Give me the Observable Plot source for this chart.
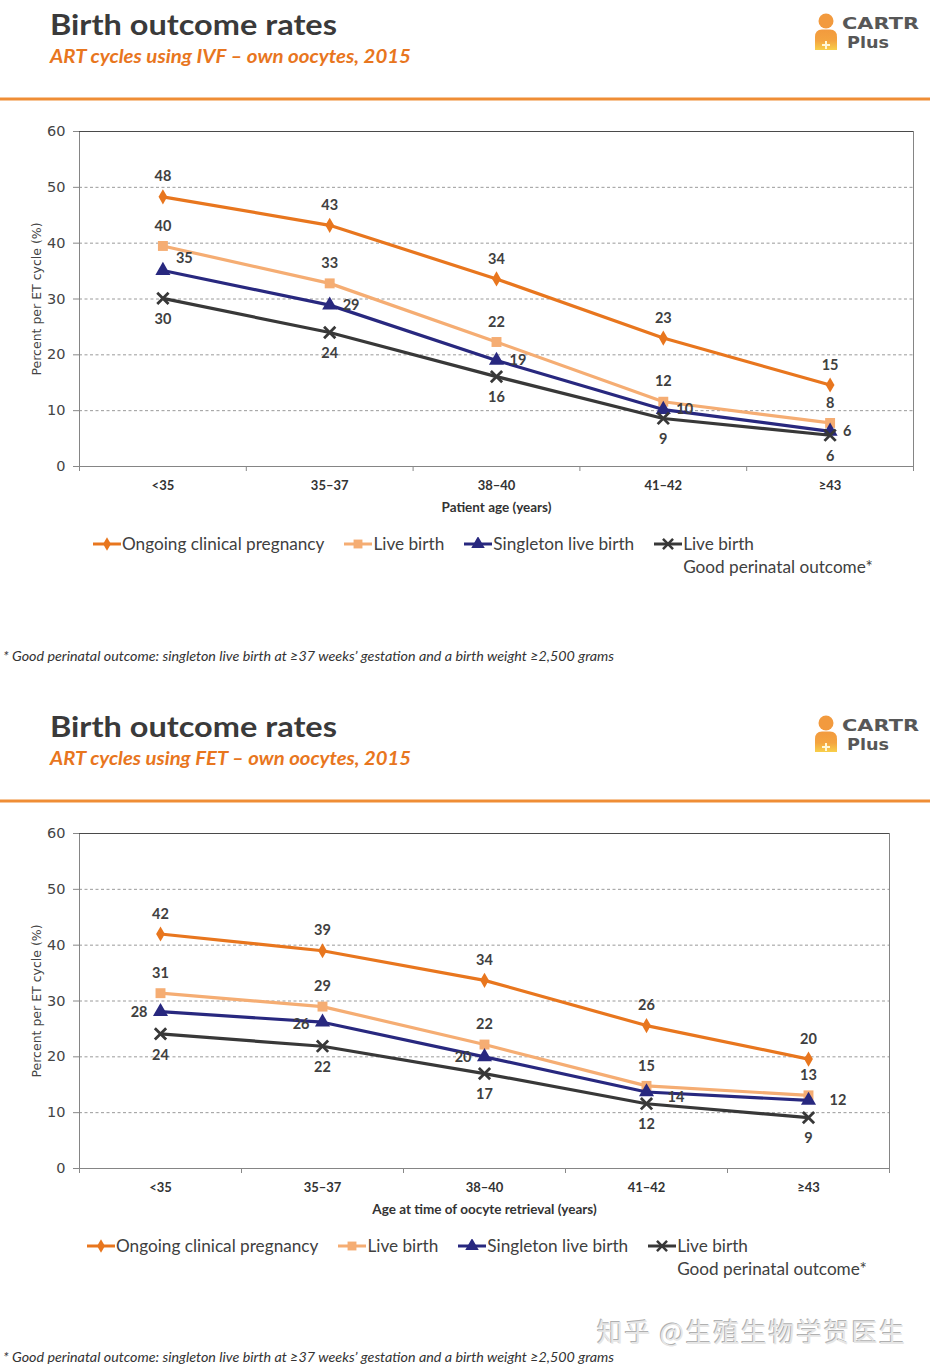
<!DOCTYPE html>
<html>
<head>
<meta charset="utf-8">
<script src="https://cdn.jsdelivr.net/npm/d3@7"></script>
<script src="https://cdn.jsdelivr.net/npm/@observablehq/plot@0.6"></script>
<style>
  body { margin: 0; background: #fff; font-family: Lato, "Open Sans", sans-serif; }
  #page { position: relative; width: 930px; height: 1370px; overflow: hidden; background: #fff; }
  .abs { position: absolute; left: 0; }
  .legend { position: absolute; display: flex; gap: 20px; align-items: flex-start; font-size: 17.2px; color: #404040; line-height: 23px; }
  .legend .item { display: flex; align-items: flex-start; }
  .legend svg { margin-top: 5px; margin-right: 1px; }
  .watermark { position: absolute; left: 597px; top: 1312px; font-family: "Noto Sans CJK SC", sans-serif; font-size: 26px; color: #e6e6e6; text-shadow: -1px -1px 0 #b0b0b0; letter-spacing: 1.6px; }
</style>
</head>
<body>
<div id="page"></div>
<script>
// ---------------- data ----------------
const ageGroups = ["<35", "35–37", "38–40", "41–42", "≥43"];
const seriesNames = ["Ongoing clinical pregnancy", "Live birth", "Singleton live birth", "Live birth"];
const lastSeriesSecondLine = "Good perinatal outcome*";
const yTicks = [0, 10, 20, 30, 40, 50, 60];

const ivfOngoing     = [48.3, 43.2, 33.6, 23.0, 14.6];
const ivfLiveBirth   = [39.5, 32.8, 22.3, 11.6, 7.8];
const ivfSingleton   = [35.1, 28.9, 19.0, 10.2, 6.3];
const ivfGoodOutcome = [30.1, 24.0, 16.1, 8.6, 5.6];

const fetOngoing     = [42.0, 39.0, 33.7, 25.6, 19.6];
const fetLiveBirth   = [31.4, 29.0, 22.2, 14.8, 13.1];
const fetSingleton   = [28.1, 26.2, 20.0, 13.7, 12.2];
const fetGoodOutcome = [24.1, 21.9, 17.0, 11.6, 9.1];

const titleText = "Birth outcome rates";
const ivfSubtitle = "ART cycles using IVF – own oocytes, 2015";
const fetSubtitle = "ART cycles using FET – own oocytes, 2015";
const ivfXLabel = "Patient age (years)";
const fetXLabel = "Age at time of oocyte retrieval (years)";
const yLabel = "Percent per ET cycle (%)";
const footnote = "* Good perinatal outcome: singleton live birth at ≥37 weeks’ gestation and a birth weight ≥2,500 grams";

// ---------------- styles ----------------
const seriesStyles = [
  {color: "#e8761e", symbol: "diamond", r: 4.6, filled: true},
  {color: "#f5ad73", symbol: "square", r: 5.6, filled: true},
  {color: "#28287f", symbol: "triangle", r: 5.6, filled: true},
  {color: "#383838", symbol: "times", r: 5.2, filled: false}
];
const d3Symbols = {diamond: d3.symbolDiamond, square: d3.symbolSquare, triangle: d3.symbolTriangle, times: d3.symbolTimes};

const ivfPlacement = (k, i) => {
  if (k === 0 || k === 1) return {dy: -20, anchor: "middle", dx: 0};
  if (k === 2) return {anchor: "start", dx: 13, dy: i === 0 ? -12 : 0};
  return {dy: 21, anchor: "middle", dx: 0};
};
const fetPlacement = (k, i) => {
  if (k === 0 || k === 1) return {dy: -20, anchor: "middle", dx: 0};
  if (k === 2) return i < 3 ? {anchor: "end", dx: -13, dy: i === 1 ? 2 : 1} : {anchor: "start", dx: 21, dy: i === 3 ? 5 : 0};
  return {dy: 21, anchor: "middle", dx: 0};
};

const page = document.getElementById("page");

function header(top, subtitle) {
  const svg = d3.create("svg").attr("width", 930).attr("height", 110)
    .attr("class", "abs").style("top", top + "px");
  svg.append("text").attr("x", 50).attr("y", 35).attr("textLength", 287).attr("lengthAdjust", "spacingAndGlyphs")
    .attr("font-family", "Lato").attr("font-weight", 700).attr("font-size", 28).attr("fill", "#3a3a3a").text(titleText);
  svg.append("text").attr("x", 50).attr("y", 63).attr("textLength", 361).attr("lengthAdjust", "spacingAndGlyphs")
    .attr("font-family", "Lato").attr("font-weight", 700).attr("font-style", "italic").attr("font-size", 18).attr("fill", "#e8761e").text(subtitle);
  // logo
  const defs = svg.append("defs");
  const gid = "g" + top;
  const grad = defs.append("linearGradient").attr("id", gid).attr("x1", 0).attr("x2", 0).attr("y1", 0).attr("y2", 1);
  grad.append("stop").attr("offset", "0%").attr("stop-color", "#f29a3e");
  grad.append("stop").attr("offset", "55%").attr("stop-color", "#f4a440");
  grad.append("stop").attr("offset", "100%").attr("stop-color", "#f8cf4a");
  svg.append("circle").attr("cx", 826).attr("cy", 21).attr("r", 7.5).attr("fill", "#f29a3e");
  svg.append("path").attr("d", "M815,50 L815,37 Q815,29.5 822,29.5 L830,29.5 Q837,29.5 837,37 L837,50 Z").attr("fill", `url(#${gid})`);
  svg.append("path").attr("d", "M826,41 v8 M822,45 h8").attr("stroke", "#fff7d6").attr("stroke-width", 2);
  svg.append("text").attr("x", 842).attr("y", 29).attr("textLength", 77).attr("lengthAdjust", "spacingAndGlyphs")
    .attr("font-family", "DejaVu Sans").attr("font-weight", 700).attr("font-size", 15).attr("fill", "#575757").text("CARTR");
  svg.append("text").attr("x", 847).attr("y", 48).attr("textLength", 42).attr("lengthAdjust", "spacingAndGlyphs")
    .attr("font-family", "DejaVu Sans").attr("font-weight", 700).attr("font-size", 16).attr("fill", "#575757").text("Plus");
  svg.append("rect").attr("x", 0).attr("y", 97.5).attr("width", 930).attr("height", 3).attr("fill", "#ef8d35");
  page.appendChild(svg.node());
}

function chart(top, seriesValues, xLabel, marginRight, placement) {
  const marks = [
    Plot.gridY(yTicks.filter(t => t > 0 && t < 60), {stroke: "#9a9a9a", strokeOpacity: 1, strokeDasharray: "3,2.5"}),
    Plot.frame({stroke: "#858585"}),
    Plot.ruleY([60], {stroke: "#4a4a4a"}),
    Plot.axisY({ticks: yTicks, tickSize: 6, tickPadding: 8, fontSize: 14.5, fontFamily: "DejaVu Sans", fill: "#444", stroke: "#888", label: null}),
    Plot.axisX({ticks: d3.range(-0.5, 5, 1), tickSize: 5, tickFormat: () => "", stroke: "#888", label: null}),
    Plot.axisX({ticks: d3.range(0, 5), tickSize: 0, tickPadding: 14, tickFormat: i => ageGroups[i], fontWeight: "bold", fontSize: 13, fill: "#333", label: null}),
    Plot.text([yLabel], {frameAnchor: "left", textAnchor: "middle", rotate: -90, dx: -43, fontFamily: "DejaVu Sans", fontSize: 12.5, fill: "#444"}),
    Plot.text([xLabel], {frameAnchor: "bottom", dy: 45, fontWeight: "bold", fontSize: 13.5, fill: "#333"})
  ];
  seriesValues.forEach((vals, k) => {
    const st = seriesStyles[k];
    const rows = vals.map((v, i) => ({i, v}));
    marks.push(Plot.line(rows, {x: "i", y: "v", stroke: st.color, strokeWidth: 3.2}));
    marks.push(Plot.dot(rows, st.filled
      ? {x: "i", y: "v", symbol: st.symbol, r: st.r, fill: st.color, stroke: "none"}
      : {x: "i", y: "v", symbol: st.symbol, r: st.r, stroke: st.color, strokeWidth: 2.8, fill: "none"}));
  });
  seriesValues.forEach((vals, k) => {
    vals.forEach((v, i) => {
      const p = placement(k, i);
      marks.push(Plot.text([{i, v}], {x: "i", y: "v", text: d => String(Math.round(d.v)), dx: p.dx, dy: p.dy,
        textAnchor: p.anchor, fontWeight: "bold", fontSize: 14.5, fill: "#404040"}));
    });
  });
  const plot = Plot.plot({
    width: 930, height: 410,
    marginLeft: 79, marginRight, marginTop: 16, marginBottom: 59,
    x: {domain: [-0.5, 4.5]},
    y: {domain: [0, 60]},
    style: {fontFamily: "Lato", fontSize: "12px", background: "transparent", overflow: "visible"},
    marks
  });
  plot.classList.add("abs");
  plot.style.top = top + "px";
  page.appendChild(plot);
}

function legend(left, centerY) {
  const div = document.createElement("div");
  div.className = "legend";
  div.style.left = left + "px";
  div.style.top = (centerY - 11.5) + "px";
  seriesNames.forEach((name, k) => {
    const st = seriesStyles[k];
    const item = document.createElement("div");
    item.className = "item";
    const sw = d3.create("svg").attr("width", 28).attr("height", 14);
    sw.append("line").attr("x1", 0).attr("x2", 28).attr("y1", 7).attr("y2", 7).attr("stroke", st.color).attr("stroke-width", 3);
    const path = d3.symbol(d3Symbols[st.symbol], Math.PI * st.r * st.r * 0.8)();
    const p = sw.append("path").attr("d", path).attr("transform", "translate(14,7)");
    if (st.filled) p.attr("fill", st.color); else p.attr("fill", "none").attr("stroke", st.color).attr("stroke-width", 2.5);
    item.appendChild(sw.node());
    const txt = document.createElement("div");
    txt.innerHTML = k === 3 ? `${name}<br>${lastSeriesSecondLine}` : name;
    item.appendChild(txt);
    div.appendChild(item);
  });
  page.appendChild(div);
}

function foot(baselineY) {
  const svg = d3.create("svg").attr("width", 930).attr("height", 20).attr("class", "abs").style("top", (baselineY - 15) + "px");
  svg.append("text").attr("x", 3).attr("y", 15).attr("textLength", 611).attr("lengthAdjust", "spacingAndGlyphs")
    .attr("font-family", "Lato").attr("font-style", "italic").attr("font-size", 12.5).attr("fill", "#333").text(footnote);
  page.appendChild(svg.node());
}

// Panel 1 (IVF)
header(0, ivfSubtitle);
chart(115, [ivfOngoing, ivfLiveBirth, ivfSingleton, ivfGoodOutcome], ivfXLabel, 17, ivfPlacement);
legend(93, 543);
foot(661);

// Panel 2 (FET)
header(702, fetSubtitle);
chart(817, [fetOngoing, fetLiveBirth, fetSingleton, fetGoodOutcome], fetXLabel, 41, fetPlacement);
legend(87, 1245);
foot(1362);

const wm = document.createElement("div");
wm.className = "watermark";
wm.textContent = "知乎 @生殖生物学贺医生";
page.appendChild(wm);
</script>
</body>
</html>
